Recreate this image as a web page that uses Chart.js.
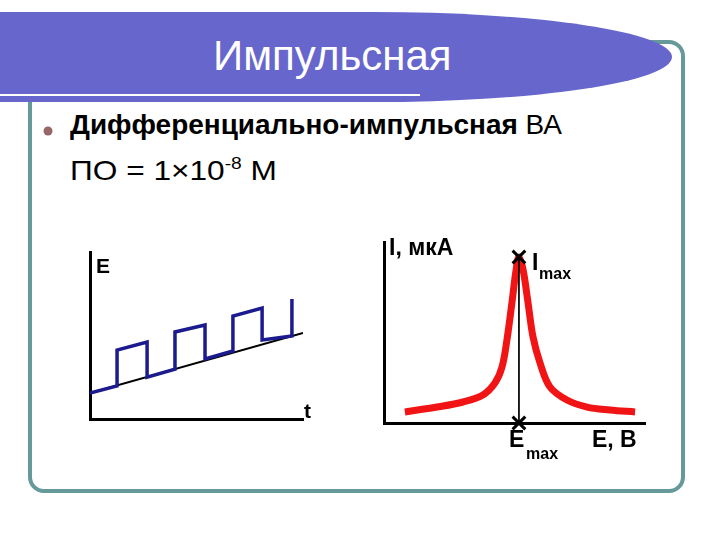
<!DOCTYPE html>
<html>
<head>
<meta charset="utf-8">
<script src="https://cdn.jsdelivr.net/npm/chart.js@4.4.0/dist/chart.umd.min.js"></script>
<style>
  html, body { margin: 0; padding: 0; background: #fff; }
  #slide { position: relative; width: 720px; height: 540px; overflow: hidden; font-family: Arial, "Liberation Sans", sans-serif; }
  .abs { position: absolute; white-space: nowrap; }
  #frame { position: absolute; left: 28px; top: 40px; width: 657px; height: 453px; box-sizing: border-box;
           border: 4px solid #669999; border-radius: 16px; }
  #banner { position: absolute; left: 0; top: 0; }
  .lbl { position: absolute; font-weight: bold; color: #000; line-height: 1; white-space: nowrap; }
  canvas { display: block; }
</style>
</head>
<body>
<div id="slide">
  <div id="frame"></div>
  <svg id="banner" width="720" height="120">
    <path d="M0,12 H374 A298,45 0 0 1 374,102 H0 Z" fill="#6666cc"/>
    <rect x="0" y="94" width="420" height="2" fill="#ffffff"/>
  </svg>
  <div class="abs" style="left:213px; top:35px; font-size:42px; line-height:1; color:#fff;">Импульсная</div>

  <svg class="abs" style="left:40px; top:123px;" width="16" height="16"><circle cx="8" cy="8" r="4.5" fill="#996666"/></svg>
  <div class="abs" style="left:70px; top:112px; font-size:27px; line-height:1; transform:scaleX(1.035); transform-origin:0 0;"><b>Дифференциально-импульсная</b> ВА</div>
  <div class="abs" style="left:70px; top:157px; font-size:28px; line-height:1; transform:scaleX(1.13); transform-origin:0 0;">ПО = 1×10<span style="font-size:17px; position:relative; top:-11px;">-8</span> М</div>

  <div class="abs" style="left:80px; top:240px; width:240px; height:190px;"><canvas id="pulse" width="240" height="190"></canvas></div>
  <div class="abs" style="left:374px; top:232px; width:280px; height:200px;"><canvas id="peak" width="280" height="200"></canvas></div>

  <div class="lbl" style="left:96px; top:255px; font-size:21px;">E</div>
  <div class="lbl" style="left:304px; top:400px; font-size:21px;">t</div>
  <div class="lbl" style="left:389px; top:236px; font-size:23px;">I, мкА</div>
  <div class="lbl" style="left:532px; top:251px; font-size:23px;">I</div>
  <div class="lbl" style="left:539px; top:266px; font-size:16px;">max</div>
  <div class="lbl" style="left:509px; top:428px; font-size:23px;">E</div>
  <div class="lbl" style="left:526px; top:446px; font-size:16px;">max</div>
  <div class="lbl" style="left:592px; top:428px; font-size:23px;">E, B</div>
</div>

<script>
// left chart: pulse train on a linear ramp (E vs t)
const pulseT = [0, 12.7, 12.7, 26.8, 26.8, 39.9, 39.9, 54, 54, 67.1, 67.1, 80.8, 80.8, 94.8, 94.8];
const pulseE = [15.6, 19.8, 41.3, 46.1, 25.1, 29.9, 52.1, 56.3, 35.9, 40.7, 61.7, 66.5, 47.3, 49.7, 71.9];
const rampT = [0, 100];
const rampE = [15.6, 51.5];

// right chart: differential pulse voltammogram (I vs E)
const curveE = [8.0, 20.3, 30.3, 37.9, 42.5, 45.2, 47.1, 49.0, 50.6, 51.7, 53.3, 55.2, 57.1, 59.8, 63.6, 70.1, 77.8, 86.6, 96.2];
const curveI = [6.1, 8.8, 11.6, 15.5, 22.1, 30.9, 45.9, 66.3, 84.5, 91.7, 84.5, 66.3, 47.5, 33.1, 19.9, 12.7, 8.8, 7.2, 6.1];
const peakE = [51.7, 51.7];
const peakI = [91.7, 0];

const toXY = (xs, ys) => xs.map((x, i) => ({ x: x, y: ys[i] }));

function axis(min, max, side) {
    return {
        type: 'linear', min: min, max: max,
        grid: { display: false, drawTicks: false },
        ticks: { display: false },
        border: { display: true, color: '#000', width: 3 },
        afterFit: s => { if (side === 'x') s.height = 0; else s.width = 0; }
    };
}

const common = {
    responsive: false,
    animation: false,
    events: [],
    plugins: { legend: { display: false }, tooltip: { enabled: false } }
};

new Chart(document.getElementById('pulse').getContext('2d'), {
    type: 'scatter',
    data: {
        datasets: [
            { data: toXY(pulseT, pulseE), showLine: true, borderColor: '#1b1b8f', borderWidth: 3.5, pointRadius: 0, tension: 0 },
            { data: toXY(rampT, rampE), showLine: true, borderColor: '#000', borderWidth: 2, pointRadius: 0 }
        ]
    },
    options: Object.assign({}, common, {
        layout: { autoPadding: false, padding: { left: 10, right: 17, top: 12, bottom: 11 } },
        scales: { x: axis(0, 100, 'x'), y: axis(0, 100, 'y') }
    })
});

new Chart(document.getElementById('peak').getContext('2d'), {
    type: 'scatter',
    data: {
        datasets: [
            { data: toXY(peakE, peakI), showLine: true, borderColor: '#000', borderWidth: 1,
              pointStyle: 'crossRot', pointRadius: 9, pointBorderWidth: 3, pointBorderColor: '#000', clip: false },
            { data: toXY(curveE, curveI), showLine: true, borderColor: '#f01414', borderWidth: 7, pointRadius: 0,
              tension: 0.35, borderCapStyle: 'butt' }
        ]
    },
    options: Object.assign({}, common, {
        layout: { autoPadding: false, padding: { left: 10, right: 9, top: 10, bottom: 9 } },
        scales: { x: axis(0, 100, 'x'), y: axis(0, 100, 'y') }
    })
});
</script>
</body>
</html>
